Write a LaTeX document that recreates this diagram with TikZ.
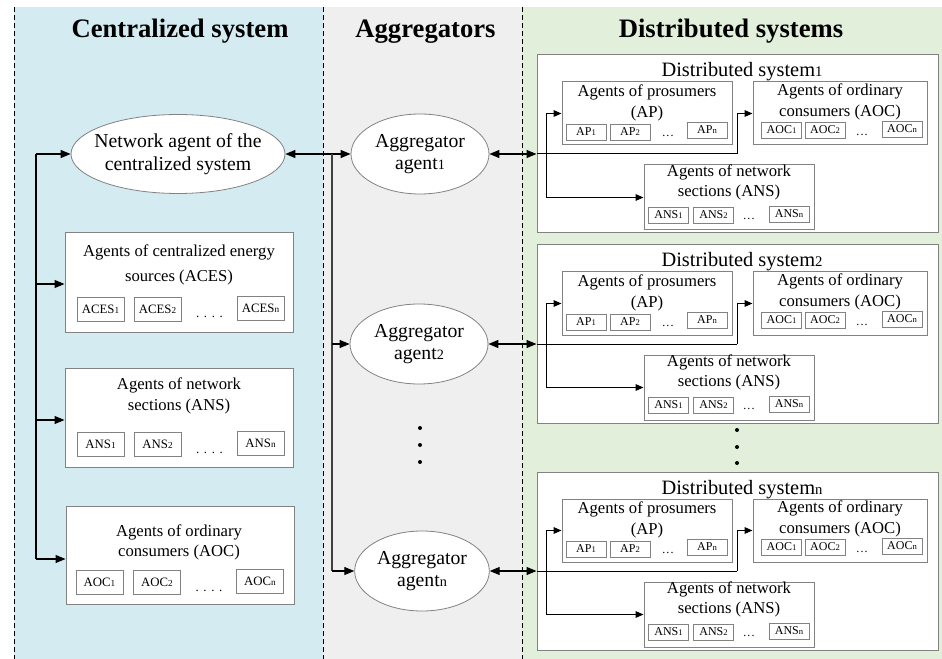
\documentclass[tikz,border=0pt]{standalone}
\usepackage{fontspec}
\setmainfont{Liberation Serif}
\usetikzlibrary{shapes.geometric,arrows.meta,fit}
\makeatletter
\newcommand\idx[1]{{\fontsize{\strip@pt\dimexpr 0.72\dimexpr\f@size pt\relax\relax}{0pt}\selectfont #1}}
\makeatother
\definecolor{cblue}{RGB}{211,235,241}
\definecolor{cgray}{RGB}{239,239,239}
\definecolor{cgreen}{RGB}{226,239,218}
\definecolor{cline}{RGB}{130,130,130}
\tikzset{
  head/.style={font=\fontsize{20}{24}\selectfont\bfseries, anchor=base, inner sep=0},
  ell/.style={ellipse, draw=cline, line width=0.6pt, fill=white, inner sep=0},
  etxt/.style={align=center, font=\fontsize{14.8}{17}\selectfont, inner sep=0},
  lbox/.style={draw=cline, fill=white, line width=0.75pt, inner sep=0},
  obox/.style={draw=cline, fill=white, line width=0.75pt, inner sep=0},
  ibox/.style={draw=cline, fill=white, line width=0.75pt, inner sep=0},
  ttl/.style={align=center, font=\fontsize{12.5}{15.5}\selectfont, inner sep=0},
  dtitle/.style={font=\fontsize{15.3}{18}\selectfont, anchor=base, inner sep=0},
  sbl/.style={draw=cline, line width=0.6pt, minimum width=35.25pt, minimum height=18pt, inner sep=0, font=\fontsize{9.6}{11}\selectfont},
  sbr/.style={draw=cline, line width=0.6pt, minimum width=30pt, minimum height=12pt, inner sep=0, font=\fontsize{9}{10}\selectfont},
  ldots/.style={inner sep=0, font=\fontsize{9.6}{11}\selectfont},
  rdots/.style={inner sep=0, font=\fontsize{9}{10}\selectfont},
  vdot/.style={circle, fill=black, inner sep=0, minimum size=3pt},
  arr/.style={line width=0.9pt, -{Triangle[length=7.5pt,width=6pt]}},
  dbl/.style={line width=0.9pt, {Triangle[length=7.5pt,width=6pt]}-{Triangle[length=7.5pt,width=6pt]}},
  iarr/.style={line width=0.75pt, -{Triangle[length=6pt,width=5pt]}},
  iline/.style={line width=0.75pt},
  bus/.style={line width=0.9pt},
  sep/.style={line width=0.6pt, dash pattern=on 3.75pt off 2.25pt}
}
\newcommand\dsys[3]{%
  \node[obox, fit={(537,#2) (938,#2+178)}] (#1) {};
  \node[dtitle] (#1t) at (742,#2+22) {Distributed system\idx{#3}};
  \node[ibox, fit={(562,#2+27) (732,#2+90)}] (#1ap) {};
  \node[ttl] (#1apt) at (647,#2+48) {Agents of prosumers\\(AP)};
  \node[sbr] (#1apa) at (586,#2+77) {AP\idx{1}};
  \node[sbr] (#1apb) at (630,#2+77) {AP\idx{2}};
  \node[rdots] (#1apd) at (668,#2+81) {.\hspace{0.8pt}.\hspace{0.8pt}.};
  \node[sbr] (#1apn) at (707,#2+75) {AP\idx{n}};
  \node[ibox, fit={(753,#2+27) (927,#2+90)}] (#1aoc) {};
  \node[ttl] (#1aoct) at (840,#2+47) {Agents of ordinary\\consumers (AOC)};
  \node[sbr] (#1aoca) at (781.5,#2+75) {AOC\idx{1}};
  \node[sbr] (#1aocb) at (825,#2+75) {AOC\idx{2}};
  \node[rdots] (#1aocd) at (862,#2+80) {.\hspace{0.8pt}.\hspace{0.8pt}.};
  \node[sbr] (#1aocn) at (902,#2+74) {AOC\idx{n}};
  \node[ibox, fit={(644,#2+110) (814,#2+175)}] (#1ans) {};
  \node[ttl] (#1anst) at (729,#2+127.5) {Agents of network\\sections (ANS)};
  \node[sbr] (#1ansa) at (668.5,#2+160) {ANS\idx{1}};
  \node[sbr] (#1ansb) at (713.5,#2+160) {ANS\idx{2}};
  \node[rdots] (#1ansd) at (749,#2+164) {.\hspace{0.8pt}.\hspace{0.8pt}.};
  \node[sbr] (#1ansn) at (789,#2+159) {ANS\idx{n}};
  \coordinate (#1in) at (537,#2+99);
  \coordinate (#1b) at (546,#2+99);
  \coordinate (#1k) at (737,#2+99);
  \draw[iline] (#1in) -- (#1k);
  \draw[iarr] (#1k) |- (#1aoc.west);
  \draw[iarr] (#1b) |- (#1ap.west);
  \draw[iarr] (#1b) |- (#1ans.west);
}
\begin{document}
\begin{tikzpicture}[x=0.75pt,y=-0.75pt]
\useasboundingbox (0,0) rectangle (942,659);
% panels
\fill[cblue] (14,7) rectangle (323,659);
\fill[cgray] (323,7) rectangle (522,659);
\fill[cgreen] (522,7) rectangle (942,659);
\draw[sep] (14,7) -- (14,659);
\draw[sep] (323,7) -- (323,659);
\draw[sep] (522,7) -- (522,659);
% headings
\node[head] (h1) at (180,38) {Centralized system};
\node[head] (h2) at (425.5,38) {Aggregators};
\node[head] (h3) at (731,38) {Distributed systems};
% centralized system
\node[ell, minimum width=160.5pt, minimum height=59.25pt] (net) at (178,154) {};
\node[etxt] (nett) at (net.center) {Network agent of the\\centralized system};
\node[lbox, fit={(65,233) (293,332)}] (aces) {};
\node[ttl, font=\fontsize{12.5}{18.5}\selectfont] (acest) at (179,265) {Agents of centralized energy\\sources (ACES)};
\node[sbl] (acesa) at (100.5,309) {ACES\idx{1}};
\node[sbl] (acesb) at (157.5,309) {ACES\idx{2}};
\node[ldots] (acesd) at (209.5,317) {.\hspace{3.5pt}.\hspace{3.5pt}.\hspace{3.5pt}.};
\node[sbl] (acesn) at (260.5,308) {ACES\idx{n}};
\node[lbox, fit={(65,368) (293,467)}] (ans) {};
\node[ttl] (anst) at (179,396) {Agents of network\\sections (ANS)};
\node[sbl] (ansa) at (100.5,444) {ANS\idx{1}};
\node[sbl] (ansb) at (157.5,444) {ANS\idx{2}};
\node[ldots] (ansd) at (209.5,453) {.\hspace{3.5pt}.\hspace{3.5pt}.\hspace{3.5pt}.};
\node[sbl] (ansn) at (260.5,443) {ANS\idx{n}};
\node[lbox, fit={(66,506) (294,604)}] (aoc) {};
\node[ttl] (aoct) at (179,542.5) {Agents of ordinary\\consumers (AOC)};
\node[sbl] (aoca) at (99.5,582.5) {AOC\idx{1}};
\node[sbl] (aocb) at (157,582.5) {AOC\idx{2}};
\node[ldots] (aocd) at (209,591) {.\hspace{3.5pt}.\hspace{3.5pt}.\hspace{3.5pt}.};
\node[sbl] (aocn) at (260,581.5) {AOC\idx{n}};
\coordinate (lb1) at (36,154);
\coordinate (lb2) at (36,284);
\coordinate (lb3) at (36,420);
\coordinate (lb4) at (36,559);
\draw[bus] (lb1) -- (lb4);
\draw[arr] (lb1) -- (net.west);
\draw[arr] (lb2) -- (lb2 -| aces.west);
\draw[arr] (lb3) -- (lb3 -| ans.west);
\draw[arr] (lb4) -- (lb4 -| aoc.west);
% aggregators
\node[ell, minimum width=103.5pt, minimum height=60pt] (ag1) at (420,154) {};
\node[etxt] (ag1t) at (ag1.center) {Aggregator\\agent\idx{1}};
\node[ell, minimum width=103.5pt, minimum height=60pt] (ag2) at (419,344) {};
\node[etxt] (ag2t) at (ag2.center) {Aggregator\\agent\idx{2}};
\node[ell, minimum width=101pt, minimum height=60pt] (agn) at (422,571) {};
\node[etxt] (agnt) at (agn.center) {Aggregator\\agent\idx{n}};
\node[vdot] (va1) at (420,428) {};
\node[vdot] (va2) at (420,445) {};
\node[vdot] (va3) at (420,462) {};
\coordinate (mb1) at (332,154);
\coordinate (mb2) at (332,344);
\coordinate (mb3) at (332,571);
\draw[dbl] (net.east) -- (ag1.west);
\draw[bus, draw=black!75] (mb1) -- (mb3);
\draw[arr] (mb2) -- (ag2.west);
\draw[arr] (mb3) -- (agn.west);
% distributed systems
\dsys{da}{55}{1}
\dsys{db}{245}{2}
\dsys{dn}{472}{n}
\node[vdot] (vd1) at (737,430) {};
\node[vdot] (vd2) at (737,447) {};
\node[vdot] (vd3) at (737,463) {};
\draw[dbl] (ag1.east) -- (ag1.east -| da.west);
\draw[dbl] (ag2.east) -- (ag2.east -| db.west);
\draw[dbl] (agn.east) -- (agn.east -| dn.west);
\end{tikzpicture}
\end{document}
